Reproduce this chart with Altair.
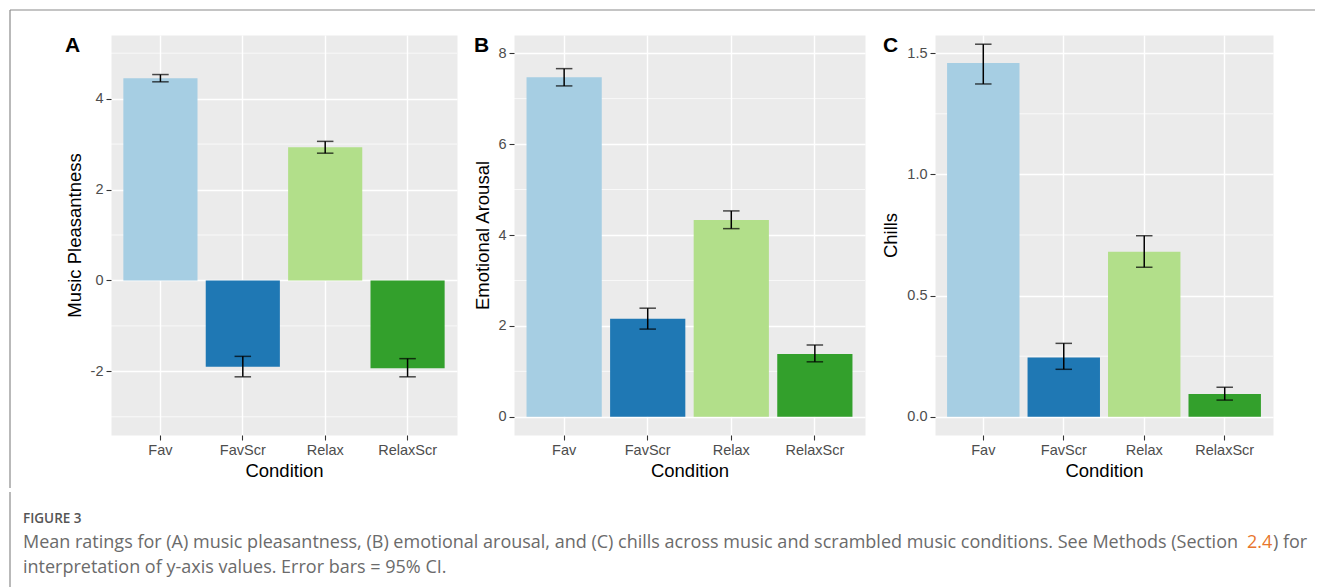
import altair as alt
import pandas as pd

conditions = ["Fav", "FavScr", "Relax", "RelaxScr"]
colors = ["#A6CEE3", "#1F78B4", "#B2DF8A", "#33A02C"]

pleas_mean = [4.45, -1.90, 2.93, -1.93]
pleas_lo = [4.37, -2.12, 2.80, -2.12]
pleas_hi = [4.53, -1.67, 3.06, -1.72]

arousal_mean = [7.47, 2.16, 4.33, 1.38]
arousal_lo = [7.28, 1.93, 4.14, 1.21]
arousal_hi = [7.66, 2.39, 4.53, 1.58]

chills_mean = [1.459, 0.245, 0.681, 0.094]
chills_lo = [1.373, 0.196, 0.617, 0.069]
chills_hi = [1.537, 0.303, 0.747, 0.122]

pleas_ticks = [-2, 0, 2, 4]
pleas_minor = [-3, -1, 1, 3, 5]
arousal_ticks = [0, 2, 4, 6, 8]
arousal_minor = [1, 3, 5, 7]
chills_ticks = [0.0, 0.5, 1.0, 1.5]
chills_minor = [0.25, 0.75, 1.25]

caption_head = "FIGURE 3"
caption_line1 = ("Mean ratings for (A) music pleasantness, (B) emotional arousal, and (C) chills "
                 "across music and scrambled music conditions. See Methods (Section")
caption_ref = "2.4"
caption_tail = ") for"
caption_line2 = "interpretation of y-axis values. Error bars = 95% CI."

FONT = "Liberation Sans"
PH = 400
BORDER = "#8a8a8a"
TOP = -25


def panel(means, lo, hi, ticks, minor, domain, ytitle, label, width,
          title_x, label_x, seg_start, seg_end, label_fmt=None, border=False):
    df = pd.DataFrame({"cond": conditions, "mean": means, "lo": lo, "hi": hi})
    mdf = pd.DataFrame({"m": minor})
    xscale = alt.Scale(domain=conditions, paddingInner=0.1, paddingOuter=0.15)
    yscale = alt.Scale(domain=domain, nice=False, zero=False)
    yaxis_kw = dict(values=ticks, grid=True, gridColor="white", gridWidth=1.4,
                    domain=False, tickColor="#333333", tickSize=5, tickWidth=1.1,
                    labelColor="#4D4D4D", labelFont=FONT, labelFontSize=14.5,
                    labelPadding=3, title=ytitle, titleFont=FONT, titleFontSize=18.5,
                    titleFontWeight="normal", titleColor="black", titleX=title_x,
                    titleY=PH / 2, titleAngle=270, titleBaseline="middle",
                    titleAlign="center")
    if label_fmt:
        yaxis_kw["format"] = label_fmt
    else:
        yaxis_kw["labelExpr"] = "toString(datum.value)"
    yaxis = alt.Axis(**yaxis_kw)
    xaxis = alt.Axis(title="Condition", labelAngle=0, bandPosition=0.5, grid=True,
                     gridColor="white", gridWidth=1.4, domain=False,
                     tickColor="#333333", tickSize=5, tickWidth=1.1,
                     labelColor="#4D4D4D", labelFont=FONT, labelFontSize=14.5,
                     labelPadding=3, titleFont=FONT, titleFontSize=18.5,
                     titleFontWeight="normal", titleColor="black", titleY=35,
                     titleBaseline="middle")
    X = alt.X("cond:N", scale=xscale, axis=xaxis, sort=conditions)

    minor_rules = alt.Chart(mdf).mark_rule(color="white", strokeWidth=0.7).encode(
        y=alt.Y("m:Q", scale=yscale, axis=yaxis)
    )
    bars = alt.Chart(df).mark_bar().encode(
        x=X,
        y=alt.Y("mean:Q", scale=yscale, axis=yaxis),
        y2=alt.datum(0),
        color=alt.Color("cond:N", scale=alt.Scale(domain=conditions, range=colors),
                        legend=None),
    )
    err = alt.Chart(df).mark_rule(color="black", strokeWidth=1.5).encode(
        x=X,
        y=alt.Y("lo:Q", scale=yscale, axis=yaxis),
        y2="hi:Q",
    )
    cap_lo = alt.Chart(df).mark_tick(color="black", thickness=1.5, size=16.5).encode(
        x=X,
        y=alt.Y("lo:Q", scale=yscale, axis=yaxis),
    )
    cap_hi = alt.Chart(df).mark_tick(color="black", thickness=1.5, size=16.5).encode(
        x=X,
        y=alt.Y("hi:Q", scale=yscale, axis=yaxis),
    )
    lab = alt.Chart(pd.DataFrame({"t": [label]})).mark_text(
        font=FONT, fontSize=21, fontWeight="bold", color="black", align="left",
        baseline="alphabetic"
    ).encode(text="t:N", x=alt.value(label_x), y=alt.value(16.5))
    one = pd.DataFrame({"t": [0]})
    top_seg = alt.Chart(one).mark_rule(color=BORDER, strokeWidth=1.2).encode(
        x=alt.value(seg_start), x2=alt.value(seg_end), y=alt.value(TOP))
    layers = [minor_rules, bars, err, cap_lo, cap_hi, lab, top_seg]
    if border:
        bl = alt.Chart(one).mark_rule(color=BORDER, strokeWidth=1.2).encode(
            x=alt.value(seg_start), y=alt.value(TOP), y2=alt.value(453))
        layers.append(bl)
    return alt.layer(*layers).properties(
        width=width, height=PH,
        view=alt.ViewBackground(fill="#EBEBEB", stroke="transparent"),
    )


pA = panel(pleas_mean, pleas_lo, pleas_hi, pleas_ticks, pleas_minor, [-3.4, 5.4],
           "Music Pleasantness", "A", 346, -37, -46, -101, 346, border=True)
pB = panel(arousal_mean, arousal_lo, arousal_hi, arousal_ticks, arousal_minor,
           [-0.4, 8.4], "Emotional Arousal", "B", 351, -32, -40, -57, 351)
pC = panel(chills_mean, chills_lo, chills_hi, chills_ticks, chills_minor,
           [-0.075, 1.575], "Chills", "C", 338, -45, -52, -70, 380,
           label_fmt=".1f")

row = alt.hconcat(pA, pB, pC, spacing=-4)

one = pd.DataFrame({"t": [0]})
cap_style = dict(font="Open Sans", fontSize=18, color="#6b6b6b", align="left",
                 baseline="middle")
caption = alt.layer(
    alt.Chart(one).mark_rule(color=BORDER, strokeWidth=1.2).encode(
        x=alt.value(-101), y=alt.value(0), y2=alt.value(96)),
    alt.Chart(pd.DataFrame({"t": [caption_head]})).mark_text(
        font="Open Sans", fontSize=13.5, fontWeight=600, color="#555555",
        align="left", baseline="middle").encode(
        text="t:N", x=alt.value(-88), y=alt.value(26.5)),
    alt.Chart(pd.DataFrame({"t": [caption_line1]})).mark_text(**cap_style).encode(
        text="t:N", x=alt.value(-88), y=alt.value(50.5)),
    alt.Chart(pd.DataFrame({"t": [caption_ref]})).mark_text(
        font="Open Sans", fontSize=18, color="#E8762D", align="left",
        baseline="middle").encode(text="t:N", x=alt.value(1136), y=alt.value(50.5)),
    alt.Chart(pd.DataFrame({"t": [caption_tail]})).mark_text(**cap_style).encode(
        text="t:N", x=alt.value(1162), y=alt.value(50.5)),
    alt.Chart(pd.DataFrame({"t": [caption_line2]})).mark_text(**cap_style).encode(
        text="t:N", x=alt.value(-88), y=alt.value(76)),
).properties(width=346, height=90)

chart = alt.vconcat(row, caption, spacing=0).properties(
    padding=0, background="white"
).configure(font=FONT).configure_view(stroke="transparent")

chart.save("out.html", embed_options={"renderer": "svg", "actions": False})
